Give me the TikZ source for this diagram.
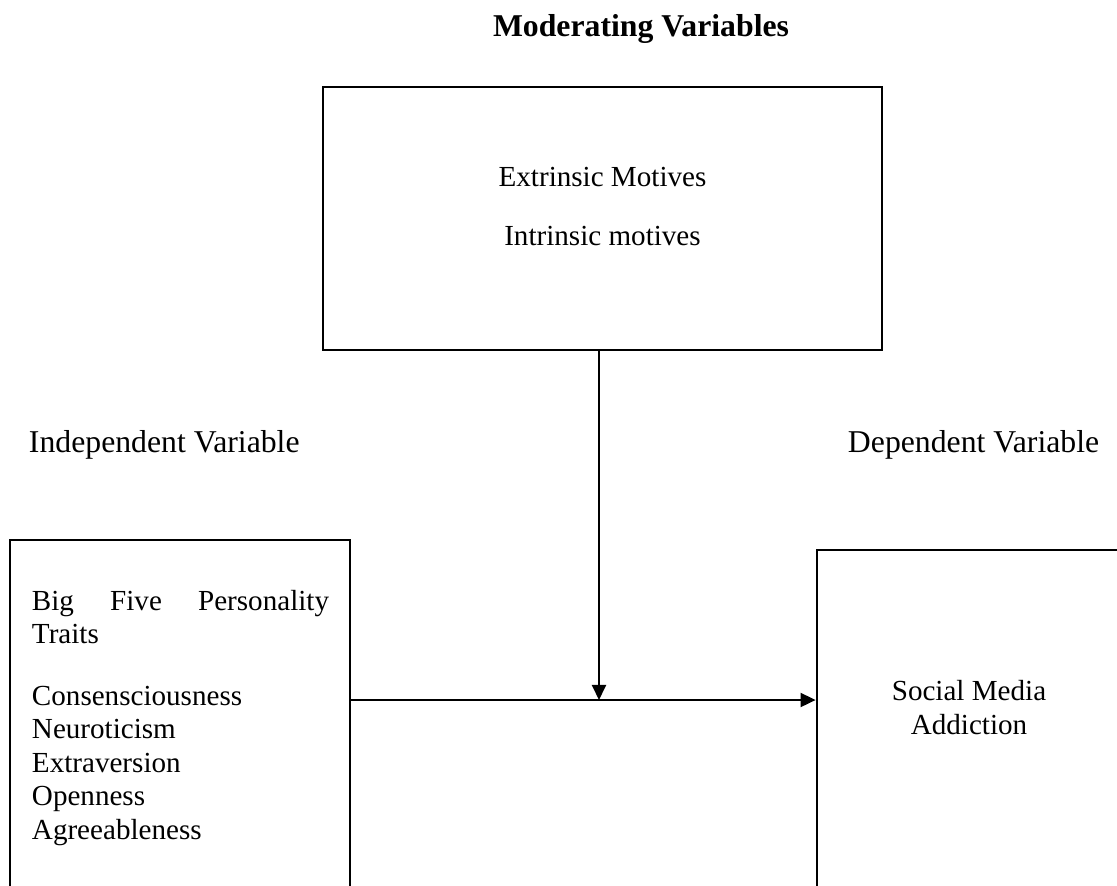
\documentclass[tikz,border=0pt]{standalone}
\usepackage{fontspec}
\setmainfont{Liberation Serif}
\usetikzlibrary{arrows.meta,positioning}

\tikzset{every picture/.style={line width=0.75pt}}
\tikzset{
  varbox/.style={draw, line width=1pt, rectangle, inner sep=0pt},
  boxtext/.style={inner sep=0pt, font=\fontsize{11}{12.65}\selectfont},
  headtext/.style={inner sep=0pt, font=\fontsize{12}{13.8}\selectfont},
  link/.style={line width=0.75pt, -{Triangle[length=5.7pt,width=5.3pt]}}
}

\begin{document}
\begin{tikzpicture}[x=0.378pt,y=0.378pt,yscale=-1,xscale=1]
\useasboundingbox (0,0) rectangle (1117,885);
\clip (0,0) rectangle (1117,885);

%Shape: Rectangle [moderating]
\node [varbox, minimum width=211.3pt, minimum height=99.4pt] (mod) at (602.5,218.5) {};
%Shape: Rectangle [independent]
\node [varbox, minimum width=128.5pt, minimum height=143.6pt] (iv) at (180,730) {};
%Shape: Rectangle [dependent]
\node [varbox, minimum width=129.7pt, minimum height=139.9pt] (dv) at (988.5,735) {};

% Text Node
\node [headtext, anchor=base, font=\fontsize{12}{13.8}\selectfont\bfseries] (modtitle) at (641,36) {Moderating Variables};
% Text Node
\node [headtext, anchor=base west] (ivlabel) at (28,452) {Independent Variable};
% Text Node
\node [headtext, anchor=base west] (dvlabel) at (847,452) {Dependent Variable};
% Text Node
\node [boxtext, anchor=base] (extr) at (602.5,186) {Extrinsic Motives};
% Text Node
\node [boxtext, anchor=base] (intr) at (602.5,245) {Intrinsic motives};
% Text Node
\node [boxtext, anchor=base west, text width=112.3pt, align=left] (traits) at (31,610)
  {\makebox[112.3pt]{Big\hfill Five\hfill Personality}\\ Traits\\[10.8pt]
   Consensciousness\\ Neuroticism\\ Extraversion\\ Openness\\ Agreeableness};
% Text Node
\node [boxtext, anchor=base, align=center] (sma) at (969,734) {Social Media\\ Addiction};

%Straight Lines
\coordinate (join) at (599,700);
\draw [link] (mod.south -| join) -- (join);
%Straight Lines
\draw [link] (iv.east |- join) -- (dv.west |- join);

\end{tikzpicture}
\end{document}
